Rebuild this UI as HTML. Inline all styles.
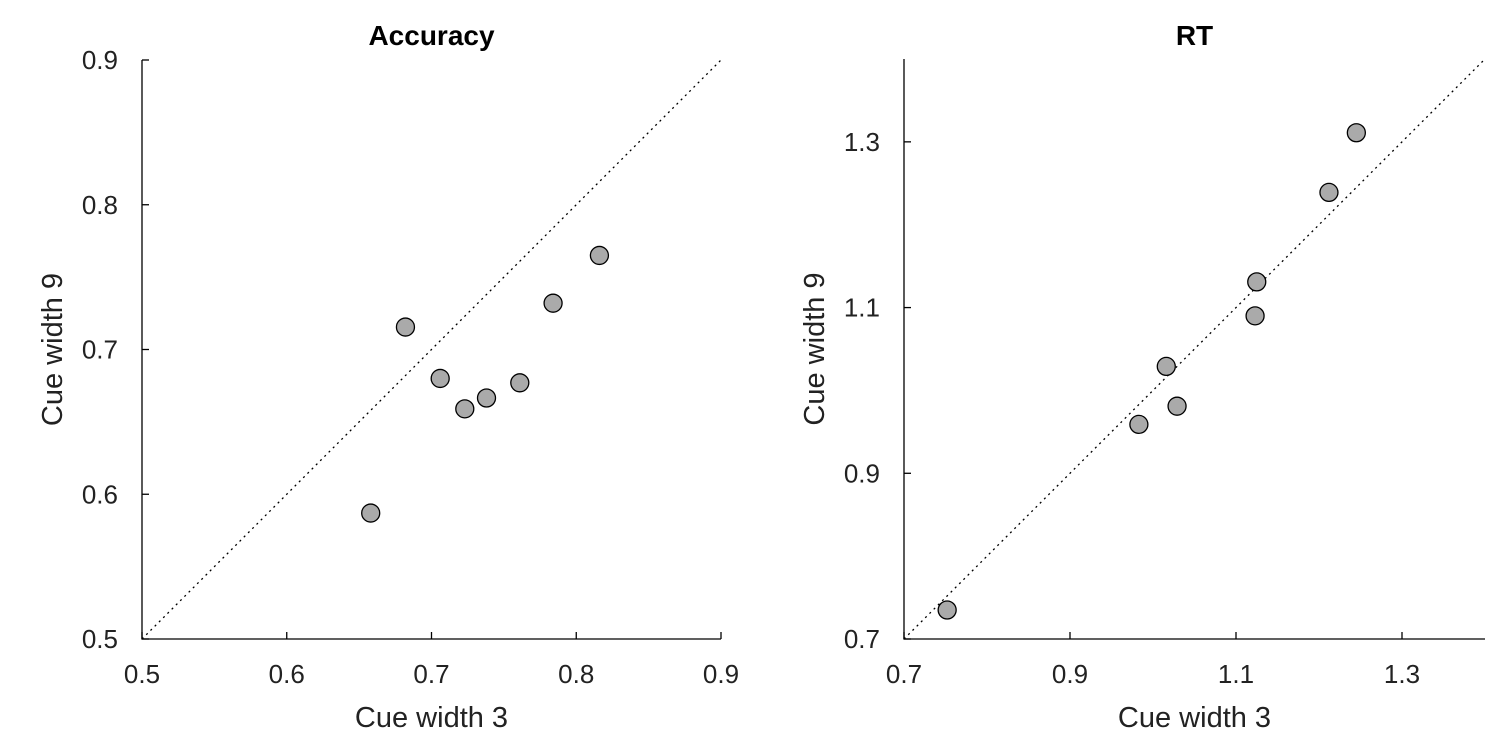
<!DOCTYPE html>
<html><head><meta charset="utf-8"><style>
html,body{margin:0;padding:0;background:#fff;}
svg{display:block;font-family:"Liberation Sans",sans-serif;}
</style></head><body>
<svg id="c" width="1498" height="749"></svg>
<script>
const accX=[0.658,0.682,0.706,0.723,0.738,0.761,0.784,0.816];
const accY=[0.587,0.7155,0.680,0.659,0.6665,0.677,0.732,0.765];
const rtX=[0.752,0.983,1.029,1.016,1.123,1.125,1.212,1.245];
const rtY=[0.735,0.959,0.981,1.029,1.090,1.131,1.239,1.311];
const accTicks=[0.5,0.6,0.7,0.8,0.9];
const rtTicks=[0.7,0.9,1.1,1.3];
const NS='http://www.w3.org/2000/svg';
const svg=document.getElementById('c');
function mk(t,a,p){const e=document.createElementNS(NS,t);for(const k in a)e.setAttribute(k,a[k]);(p||svg).appendChild(e);return e;}
function panel(name,title,x0,x1,px0,px1,y0,y1,py0,py1,ticks,xs,ys){
  const g=mk('g',{});
  
  
  const sx=v=>px0+(v-x0)/(x1-x0)*(px1-px0);
  const sy=v=>py0+(v-y0)/(y1-y0)*(py1-py0);
  const d=mk('line',{x1:sx(x0),y1:sy(y0),x2:sx(Math.min(x1,y1)),y2:sy(Math.min(x1,y1)),stroke:'#000','stroke-width':1.3,'stroke-dasharray':'2,4'},g);
  
  
  const ax=mk('path',{d:`M${px0},${py1}V${py0}H${px1}`,fill:'none',stroke:'#000','stroke-width':1.3},g);
  
  
  ticks.forEach(t=>{
    mk('line',{x1:sx(t),x2:sx(t),y1:py0,y2:py0-7,stroke:'#000','stroke-width':1.3},g);
    mk('line',{x1:px0,x2:px0+7,y1:sy(t),y2:sy(t),stroke:'#000','stroke-width':1.3},g);
    const tx=mk('text',{x:sx(t),y:py0+44,'font-size':26,'text-anchor':'middle',fill:'#222'},g);tx.textContent=t.toFixed(1);
    
    
    const ty=mk('text',{x:px0-24,y:sy(t)+9,'font-size':26,'text-anchor':'end',fill:'#222'},g);ty.textContent=t.toFixed(1);
    
    
  });
  const tt=mk('text',{x:(px0+px1)/2,y:45,'font-size':28,'font-weight':'bold','text-anchor':'middle'},g);tt.textContent=title;
  
  
  const xl=mk('text',{x:(px0+px1)/2,y:727,'font-size':29,'text-anchor':'middle',fill:'#222'},g);xl.textContent='Cue width 3';
  
  
  const yl=mk('text',{x:0,y:0,'font-size':29,'text-anchor':'middle',fill:'#222',transform:`translate(${px0-80},${(py0+py1)/2}) rotate(-90)`},g);yl.textContent='Cue width 9';
  
  
  xs.forEach((v,i)=>{
    const c=mk('circle',{cx:sx(v),cy:sy(ys[i]),r:9,fill:'#aaa',stroke:'#000','stroke-width':1.3},g);
    
    
  });
}
panel('accuracy','Accuracy',0.5,0.9,142,721,0.5,0.9,639,60,accTicks,accX,accY);
panel('rt','RT',0.7,1.4,904,1485,0.7,1.4,639,59,rtTicks,rtX,rtY);
</script>
</body></html>
